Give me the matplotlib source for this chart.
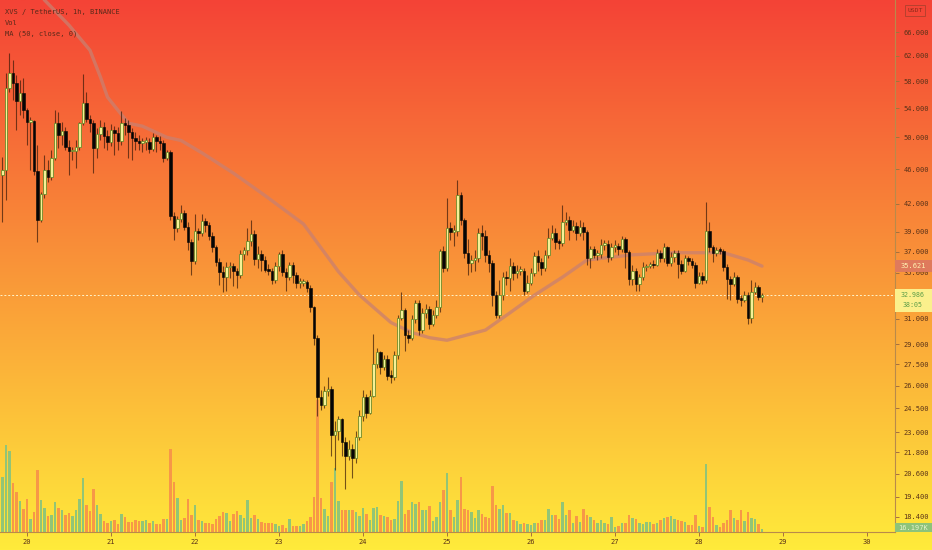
import numpy as np
import matplotlib
matplotlib.use("Agg")
import matplotlib.pyplot as plt
import matplotlib.colors as mcolors
from matplotlib.patches import Rectangle
from matplotlib.ticker import NullLocator

plt.rcParams['font.family'] = ['DejaVu Sans Mono', 'DejaVu Sans']

# hourly candles, XVS / USDT
opens = [45.3, 45.9, 56.9, 59.2, 57.7, 55.0, 56.2, 53.7, 52.1, 52.2,
         45.8, 40.2, 43.1, 45.9, 45.0, 47.3, 51.9, 50.3, 50.8, 48.7,
         48.2, 48.3, 48.7, 51.9, 54.7, 52.5, 51.9, 48.6, 50.4, 51.4,
         50.2, 49.4, 51.0, 50.6, 49.5, 51.9, 51.6, 50.7, 49.9, 49.5,
         49.3, 49.4, 49.4, 48.5, 50.0, 49.5, 49.3, 47.3, 48.1, 40.6,
         39.4, 40.3, 41.0, 39.5, 38.0, 36.1, 39.1, 38.9, 40.1, 39.7,
         38.6, 37.5, 36.0, 35.1, 34.6, 35.5, 35.6, 35.2, 34.8, 36.8,
         37.2, 38.1, 38.8, 36.3, 36.8, 36.2, 35.3, 35.2, 34.3, 35.6,
         36.8, 35.1, 34.6, 35.7, 34.8, 34.1, 34.1, 34.2, 33.6, 32.0,
         29.5, 25.2, 24.7, 25.6, 25.8, 22.8, 23.1, 23.8, 22.4, 21.6,
         22.0, 21.5, 22.7, 24.0, 25.2, 24.2, 25.3, 27.5, 28.4, 27.3,
         27.9, 26.7, 26.6, 28.2, 31.1, 31.7, 29.7, 29.5, 31.0, 32.3,
         30.1, 31.5, 31.8, 30.6, 31.3, 32.0, 37.1, 35.4, 39.4, 39.0,
         39.1, 43.0, 40.2, 36.9, 35.9, 36.2, 36.4, 38.9, 38.6, 36.7,
         35.9, 33.0, 31.3, 33.0, 34.6, 34.5, 35.6, 35.0, 35.2, 35.2,
         33.4, 34.1, 35.0, 36.6, 36.0, 35.4, 36.7, 38.4, 38.9, 38.0,
         37.9, 40.0, 40.2, 39.2, 39.6, 38.9, 39.5, 39.0, 36.4, 37.3,
         36.7, 36.8, 37.7, 37.8, 36.5, 37.5, 37.6, 37.3, 38.3, 37.0,
         34.4, 35.2, 34.0, 34.6, 35.5, 35.6, 35.8, 35.7, 36.9, 36.4,
         37.5, 35.9, 36.5, 36.9, 35.8, 35.2, 36.4, 36.1, 35.7, 34.1,
         34.7, 34.3, 39.1, 37.5, 36.9, 37.2, 37.1, 35.5, 34.4, 34.0,
         34.6, 32.7, 32.6, 33.0, 31.1, 33.3, 33.7, 32.8]
highs = [47.5, 59.2, 62.4, 61.3, 58.9, 58.2, 58.5, 54.0, 52.8, 52.3,
         49.0, 43.3, 47.7, 47.1, 48.4, 53.7, 53.4, 52.1, 51.4, 49.6,
         48.7, 49.6, 52.1, 59.1, 56.3, 53.0, 52.3, 51.2, 52.3, 52.1,
         51.0, 51.8, 51.5, 51.4, 53.6, 52.6, 52.3, 51.2, 50.7, 50.3,
         49.9, 50.0, 49.9, 50.6, 50.3, 50.2, 49.6, 48.4, 48.4, 41.1,
         40.7, 41.8, 41.3, 40.0, 38.3, 40.9, 39.4, 40.9, 40.4, 40.0,
         39.0, 37.7, 36.4, 35.6, 36.0, 36.0, 35.9, 35.4, 37.2, 37.5,
         39.4, 40.2, 39.2, 37.6, 37.2, 36.6, 35.8, 35.4, 36.0, 37.0,
         37.2, 35.4, 36.0, 36.0, 35.1, 34.5, 34.4, 34.3, 33.9, 32.1,
         29.7, 25.7, 26.0, 26.6, 26.0, 23.7, 24.0, 23.9, 22.7, 22.5,
         22.3, 23.1, 24.4, 25.7, 25.4, 25.7, 29.8, 28.7, 28.5, 28.2,
         28.2, 27.1, 28.5, 31.3, 33.3, 31.9, 30.1, 31.3, 32.6, 32.6,
         31.9, 32.2, 32.1, 31.7, 32.6, 37.3, 37.6, 42.6, 40.0, 39.7,
         44.7, 43.3, 40.4, 38.3, 36.7, 37.2, 39.4, 39.7, 39.2, 37.2,
         36.2, 33.4, 34.3, 35.1, 35.2, 36.4, 36.0, 35.7, 35.6, 35.4,
         34.8, 35.4, 37.0, 37.2, 36.4, 37.2, 39.4, 39.7, 39.4, 38.3,
         41.8, 41.1, 40.7, 40.2, 40.0, 40.2, 40.0, 39.2, 37.6, 37.6,
         37.2, 38.3, 38.2, 38.2, 37.9, 38.2, 37.9, 38.6, 38.5, 37.2,
         35.7, 35.4, 34.9, 36.0, 35.8, 36.0, 36.2, 37.3, 37.2, 37.9,
         37.6, 37.0, 37.2, 37.2, 36.2, 36.7, 36.6, 36.4, 36.0, 35.1,
         35.1, 42.2, 40.0, 37.7, 37.5, 37.45, 37.3, 35.8, 34.7, 35.1,
         34.8, 33.0, 33.4, 33.3, 34.3, 34.2, 33.9, 33.2]
lows = [40.0, 42.4, 56.3, 55.2, 51.0, 53.0, 52.6, 49.0, 45.9, 45.3,
        38.0, 40.0, 42.6, 44.5, 44.7, 47.1, 48.6, 49.0, 48.4, 45.3,
        47.1, 46.1, 48.4, 51.6, 52.1, 50.7, 45.5, 47.3, 49.6, 48.6,
        48.4, 48.9, 47.7, 48.4, 49.0, 50.3, 47.3, 47.1, 48.4, 48.4,
        48.1, 48.4, 48.0, 48.2, 48.1, 48.4, 46.9, 47.1, 40.2, 38.2,
        39.0, 40.0, 39.2, 37.2, 34.8, 35.8, 38.2, 38.6, 39.0, 38.2,
        37.0, 35.6, 33.9, 33.3, 33.4, 34.5, 33.8, 33.6, 34.5, 36.2,
        36.7, 37.6, 35.7, 35.4, 35.2, 35.1, 34.8, 34.0, 34.1, 35.2,
        34.7, 33.4, 34.3, 34.1, 33.6, 33.6, 33.8, 33.3, 31.6, 28.9,
        24.0, 24.4, 24.5, 25.3, 21.6, 20.8, 22.5, 21.6, 19.8, 21.4,
        20.4, 21.2, 22.5, 23.7, 23.9, 24.1, 25.2, 27.2, 26.8, 27.1,
        26.4, 26.2, 26.4, 27.9, 30.9, 28.5, 29.1, 29.3, 30.7, 29.7,
        29.9, 31.1, 30.2, 30.4, 31.1, 31.6, 35.1, 35.2, 38.2, 37.6,
        38.6, 39.7, 36.4, 34.8, 35.1, 35.2, 36.0, 37.2, 36.0, 35.1,
        32.1, 31.1, 31.1, 32.6, 33.9, 33.4, 34.3, 34.5, 34.8, 33.0,
        33.2, 33.9, 34.7, 35.2, 34.8, 35.2, 36.4, 38.2, 37.3, 37.3,
        37.6, 39.7, 38.2, 39.0, 38.2, 38.6, 38.2, 35.7, 35.4, 36.4,
        36.2, 36.4, 37.2, 36.0, 36.2, 37.0, 36.7, 37.0, 35.4, 33.9,
        33.9, 33.4, 33.4, 34.3, 35.2, 35.4, 35.4, 35.6, 36.0, 36.0,
        35.6, 35.6, 36.0, 34.5, 34.9, 35.1, 35.7, 35.4, 33.6, 34.0,
        34.0, 34.1, 37.0, 36.0, 36.6, 36.8, 35.2, 32.7, 32.6, 33.8,
        32.3, 32.1, 32.4, 30.6, 30.7, 33.1, 32.6, 32.4]
closes = [45.9, 56.9, 59.2, 57.7, 55.0, 56.2, 53.7, 52.1, 52.2, 45.8,
          40.2, 43.1, 45.9, 45.0, 47.3, 51.9, 50.3, 50.8, 48.7, 48.2,
          48.3, 48.7, 51.9, 54.7, 52.5, 51.9, 48.6, 50.4, 51.4, 50.2,
          49.4, 51.0, 50.6, 49.5, 51.9, 51.6, 50.7, 49.9, 49.5, 49.3,
          49.4, 49.4, 48.5, 50.0, 49.5, 49.3, 47.3, 48.1, 40.6, 39.4,
          40.3, 41.0, 39.5, 38.0, 36.1, 39.1, 38.9, 40.1, 39.7, 38.6,
          37.5, 36.0, 35.1, 34.6, 35.5, 35.6, 35.2, 34.8, 36.8, 37.2,
          38.1, 38.8, 36.3, 36.8, 36.2, 35.3, 35.2, 34.3, 35.6, 36.8,
          35.1, 34.6, 35.7, 34.8, 34.1, 34.1, 34.2, 33.6, 32.0, 29.5,
          25.2, 24.7, 25.6, 25.8, 22.8, 23.1, 23.8, 22.4, 21.6, 22.0,
          21.5, 22.7, 24.0, 25.2, 24.2, 25.3, 27.5, 28.4, 27.3, 27.9,
          26.7, 26.6, 28.2, 31.1, 31.7, 29.7, 29.5, 31.0, 32.3, 30.1,
          31.5, 31.8, 30.6, 31.3, 32.0, 37.1, 35.4, 39.4, 39.0, 39.1,
          43.0, 40.2, 36.9, 35.9, 36.2, 36.4, 38.9, 38.6, 36.7, 35.9,
          33.0, 31.3, 33.0, 34.6, 34.5, 35.6, 35.0, 35.2, 35.2, 33.4,
          34.1, 35.0, 36.6, 36.0, 35.4, 36.7, 38.4, 38.9, 38.0, 37.9,
          40.0, 40.2, 39.2, 39.6, 38.9, 39.5, 39.0, 36.4, 37.3, 36.7,
          36.8, 37.7, 37.8, 36.5, 37.5, 37.6, 37.3, 38.3, 37.0, 34.4,
          35.2, 34.0, 34.6, 35.5, 35.6, 35.8, 35.7, 36.9, 36.4, 37.5,
          35.9, 36.5, 36.9, 35.8, 35.2, 36.4, 36.1, 35.7, 34.1, 34.7,
          34.3, 39.1, 37.5, 36.9, 37.2, 37.1, 35.5, 34.4, 34.0, 34.6,
          32.7, 32.6, 33.0, 31.1, 33.3, 33.7, 32.8, 32.986]
# volume in thousands
volumes = [302, 479, 447, 272, 221, 169, 128, 180, 72, 110,
           344, 178, 133, 86, 92, 167, 133, 119, 96, 103,
           88, 124, 182, 299, 150, 115, 239, 151, 97, 59,
           50, 61, 65, 43, 97, 83, 56, 56, 69, 61,
           59, 69, 50, 59, 42, 42, 70, 70, 461, 275,
           187, 65, 79, 182, 92, 151, 65, 61, 50, 50,
           43, 70, 86, 110, 104, 61, 101, 115, 96, 77,
           178, 77, 96, 70, 56, 47, 47, 50, 43, 32,
           38, 23, 70, 32, 32, 32, 43, 61, 83, 191,
           729, 187, 128, 88, 275, 356, 173, 123, 123, 123,
           123, 110, 86, 131, 97, 65, 133, 140, 92, 86,
           83, 65, 74, 173, 281, 97, 119, 167, 155, 164,
           123, 119, 142, 59, 83, 164, 231, 326, 124, 83,
           178, 302, 128, 119, 110, 79, 119, 101, 83, 79,
           254, 150, 128, 151, 106, 106, 65, 59, 42, 50,
           43, 38, 52, 47, 65, 65, 128, 96, 96, 74,
           167, 96, 119, 50, 86, 56, 128, 92, 83, 65,
           47, 65, 47, 43, 83, 29, 32, 47, 47, 92,
           79, 74, 47, 43, 56, 56, 43, 50, 65, 79,
           83, 88, 74, 65, 61, 56, 38, 38, 96, 32,
           25, 376, 137, 83, 38, 29, 47, 69, 119, 77,
           69, 119, 61, 110, 79, 70, 43, 16.197]

# MA(50, close) read at a few bars
ma_bars = [9, 12, 19, 25, 28, 30, 33, 36, 40, 47, 51, 57, 66, 75, 86, 94, 96,
           102, 107, 111, 117, 122, 127, 138, 145, 152, 160, 167, 180, 192,
           200, 206, 213, 217]
ma_vals = [75.0, 71.8, 67.2, 62.9, 58.6, 55.6, 53.7, 51.9, 51.5, 50.0, 49.6,
           48.0, 45.5, 42.9, 39.8, 36.0, 35.1, 33.0, 31.7, 30.7, 29.9, 29.5,
           29.3, 30.1, 31.5, 33.0, 34.6, 36.2, 36.7, 36.9, 36.9, 36.9, 36.2,
           35.621]

day_labels = ["20", "21", "22", "23", "24", "25", "26", "27", "28", "29", "30"]
first_midnight_bar = 7
# 33.000 sits under the last-price tag, so it is left out
price_ticks = [18.4, 19.4, 20.6, 21.8, 23.0, 24.5, 26.0, 27.5, 29.0, 31.0,
               35.0, 37.0, 39.0, 42.0, 46.0, 50.0, 54.0, 58.0, 62.0, 66.0]
legend_lines = ["XVS / TetherUS, 1h, BINANCE", "Vol", "MA (50, close, 0)"]
vol_label = "16.197K"
countdown = "38:05"

opens = np.array(opens)
highs = np.array(highs)
lows = np.array(lows)
closes = np.array(closes)
volumes = np.array(volumes, dtype=float)
x = np.arange(len(closes))
up = closes >= opens

W, H = 932, 550
fig = plt.figure(figsize=(W / 100, H / 100), dpi=100)

# red -> yellow background
bg = fig.add_axes([0, 0, 1, 1], zorder=0)
c_top = np.array(mcolors.to_rgb("#f44336"))
c_bot = np.array(mcolors.to_rgb("#ffeb3b"))
t = np.linspace(0, 1, 300)[:, None]
grad = (c_top * (1 - t) + c_bot * t)[:, None, :]
bg.imshow(grad, aspect="auto", extent=[0, 1, 0, 1], origin="upper")
bg.axis("off")

rect = [0, 18 / H, 895 / W, 532 / H]
axv = fig.add_axes(rect, zorder=1)
ax = fig.add_axes(rect, zorder=2)
for a in (axv, ax):
    a.patch.set_alpha(0)
xlim = (-0.71, 255.0)

# volume
vcol = np.where(up, "#8cc47a", "#f79448")
axv.bar(x, volumes, width=0.74, color=vcol, linewidth=0, alpha=0.95)
axv.set_xlim(*xlim)
axv.set_ylim(0, volumes.max() * 532 / 132)
axv.axis("off")

# candles
ax.set_yscale("log")
ax.axhline(closes[-1], color="#fff3c8", lw=0.7, ls=(0, (2, 2)), zorder=1)
ax.plot(ma_bars, ma_vals, color="#c98070", alpha=0.75, lw=2.4,
        solid_capstyle="round", solid_joinstyle="round", zorder=1.5)
ax.vlines(x, lows, highs, color="#3a1a08", alpha=0.7, lw=0.8, zorder=2)
body_lo = np.minimum(opens, closes)
body_h = np.maximum(np.abs(closes - opens), body_lo * 0.004)
ax.bar(x[up], body_h[up], bottom=body_lo[up], width=0.72, color="#f6f196",
       edgecolor="#6d8a2c", linewidth=0.6, zorder=3)
ax.bar(x[~up], body_h[~up], bottom=body_lo[~up], width=0.72, color="#050505",
       edgecolor="#050505", linewidth=0.4, zorder=3)

ax.set_xlim(*xlim)
ax.set_ylim(17.68, 71.81)

ax.yaxis.tick_right()
ax.yaxis.set_minor_locator(NullLocator())
ax.set_yticks(price_ticks)
ax.set_yticklabels([f"{v:.3f}" for v in price_ticks])
ax.set_xticks([first_midnight_bar + 24 * i for i in range(len(day_labels))])
ax.set_xticklabels(day_labels)
ax.tick_params(axis="both", length=3, width=0.7, color="#a8703a",
               labelcolor="#5a3218", labelsize=5)
ax.tick_params(axis="y", pad=3)
ax.tick_params(axis="x", pad=2)
for s in ("top", "left"):
    ax.spines[s].set_visible(False)
for s in ("right", "bottom"):
    ax.spines[s].set_color("#b98a4a")
    ax.spines[s].set_linewidth(0.8)


def fig_y(price):
    return fig.transFigure.inverted().transform(ax.transData.transform((0, price)))[1]


def box(y_top_px, h_px, fc):
    fig.add_artist(Rectangle((895 / W, y_top_px - h_px / H), 37 / W, h_px / H,
                             transform=fig.transFigure, fc=fc, ec="none", zorder=10))


# MA value tag
y_ma = fig_y(ma_vals[-1])
box(y_ma + 6 / H, 12, "#df7a5c")
fig.text(913 / W, y_ma, f"{ma_vals[-1]:.3f}", ha="center", va="center",
         fontsize=5, color="#fff2b0", zorder=11)

# last price tag
y_last = fig_y(closes[-1])
box(y_last + 6 / H, 23, "#fbf08c")
fig.text(913 / W, y_last + 0.5 / H, f"{closes[-1]:.3f}", ha="center", va="center",
         fontsize=4.8, color="#5d9e48", zorder=11)
fig.text(913 / W, y_last - 10 / H, countdown, ha="center", va="center",
         fontsize=4.8, color="#5d9e48", zorder=11)

# volume tag
box(1 - 523 / H, 9, "#8dc37a")
fig.text(913 / W, 1 - 527.5 / H, vol_label, ha="center", va="center",
         fontsize=5, color="#e6f2cc", zorder=11)

# currency tag
fig.add_artist(Rectangle((905 / W, 1 - 16 / H), 20 / W, 11 / H,
                         transform=fig.transFigure, fc="none", ec="#b8402e",
                         lw=0.7, zorder=10))
fig.text(915 / W, 1 - 10.5 / H, "USDT", ha="center", va="center",
         fontsize=4.6, color="#8a2a1a", zorder=11)

for i, line in enumerate(legend_lines):
    fig.text(5 / W, 1 - (12 + 11 * i) / H, line, ha="left", va="center",
             fontsize=5, color="#5a2a1a", zorder=11)

fig.savefig("out.png", dpi=100)
